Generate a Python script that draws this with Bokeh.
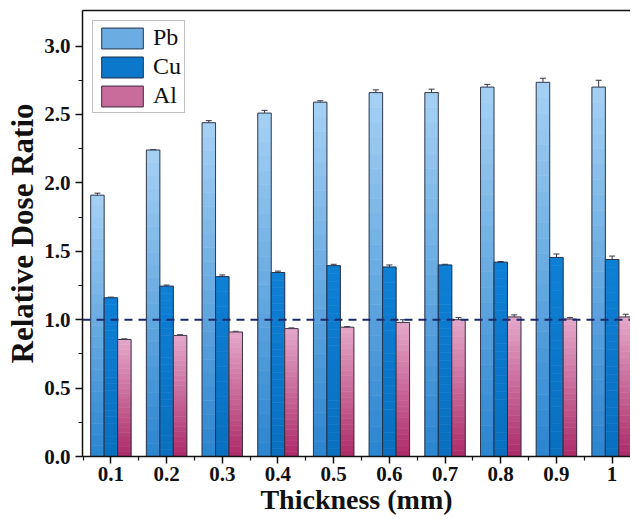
import numpy as np
from bokeh.plotting import figure
from bokeh.models import (FixedTicker, PrintfTickFormatter, Whisker, ColumnDataSource,
                          Span, Legend, LegendItem, LinearAxis, TeeHead, Range1d)
from bokeh.embed import file_html
from bokeh.resources import INLINE

# ---------------- data ----------------
thickness = ["0.1", "0.2", "0.3", "0.4", "0.5", "0.6", "0.7", "0.8", "0.9", "1"]
pb = [1.91, 2.24, 2.44, 2.51, 2.59, 2.66, 2.66, 2.70, 2.735, 2.70]
pb_err = [0.015, 0.004, 0.015, 0.02, 0.01, 0.02, 0.025, 0.02, 0.03, 0.05]
cu = [1.16, 1.245, 1.315, 1.345, 1.395, 1.385, 1.40, 1.42, 1.455, 1.44]
cu_err = [0.005, 0.008, 0.012, 0.01, 0.01, 0.015, 0.005, 0.005, 0.025, 0.025]
al = [0.855, 0.885, 0.91, 0.935, 0.945, 0.98, 1.00, 1.02, 1.005, 1.02]
al_err = [0.005, 0.005, 0.005, 0.005, 0.005, 0.02, 0.015, 0.015, 0.01, 0.02]
reference_level = 1.0

series = [
    ("Pb", pb, pb_err, "#a6d1f4", "#2a84cf", -1),
    ("Cu", cu, cu_err, "#0d80d6", "#0a6fbf", 0),
    ("Al", al, al_err, "#e4a8c9", "#ac2a68", 1),
]

FONT = "Liberation Serif"
BW = 0.242
NSEG = 24

x_idx = np.arange(len(thickness), dtype=float)

p = figure(frame_width=548, frame_height=446, output_backend="svg", toolbar_location=None,
           x_range=Range1d(-0.51, 9.33), y_range=Range1d(0, 3.26),
           min_border_left=82, min_border_right=0, min_border_top=10, min_border_bottom=66)
p.background_fill_color = "white"
p.border_fill_color = "white"
p.outline_line_color = None
p.grid.visible = False


def hex2rgb(h):
    h = h.lstrip("#")
    return np.array([int(h[i:i + 2], 16) for i in (0, 2, 4)], dtype=float)


def rgb2hex(c):
    return "#%02x%02x%02x" % tuple(int(round(v)) for v in c)


legend_items = []
for name, vals, errs, top_c, bot_c, off in series:
    vals = np.array(vals)
    xs = x_idx + off * BW
    ct, cb = hex2rgb(top_c), hex2rgb(bot_c)
    mid_r = None
    for k in range(NSEG):
        f = (k + 0.5) / NSEG
        col = rgb2hex(cb + (ct - cb) * f)
        r = p.vbar(x=xs, width=BW, bottom=vals * k / NSEG, top=vals * (k + 1) / NSEG,
                   fill_color=col, line_color=col, line_width=0.6)
        if k == NSEG // 2:
            mid_r = r
    outline = p.vbar(x=xs, width=BW, bottom=0, top=vals, fill_color=None,
                     line_color="#2a2a3a", line_width=0.9)
    src = ColumnDataSource(dict(x=xs, upper=vals + np.array(errs), lower=vals - np.array(errs)))
    w = Whisker(base="x", upper="upper", lower="lower", source=src,
                line_color="#333344", line_width=1.0,
                upper_head=TeeHead(size=6, line_color="#333344", line_width=1.0),
                lower_head=TeeHead(size=6, line_color="#333344", line_width=1.0))
    p.add_layout(w)
    legend_items.append(LegendItem(label=name, renderers=[mid_r, outline]))

span = Span(location=reference_level, dimension="width", line_color="#1b2a6b",
            line_width=2, line_dash="8 6")
p.add_layout(span)

# axes
xa = p.xaxis[0]
xa.ticker = FixedTicker(ticks=list(x_idx), minor_ticks=list(np.arange(-0.5, 10.0, 1.0)))
xa.major_label_overrides = {i: t for i, t in enumerate(thickness)}
xa.axis_label = "Thickness (mm)"

ya = p.yaxis[0]
ya.ticker = FixedTicker(ticks=[0, 0.5, 1.0, 1.5, 2.0, 2.5, 3.0],
                        minor_ticks=[0.25, 0.75, 1.25, 1.75, 2.25, 2.75])
ya.formatter = PrintfTickFormatter(format="%.1f")
ya.axis_label = "Relative Dose Ratio"

for ax in (xa, ya):
    ax.axis_line_width = 1.5
    ax.axis_line_color = "#111111"
    ax.major_tick_line_width = 1.5
    ax.minor_tick_line_width = 1.2
    ax.major_tick_line_color = "#111111"
    ax.minor_tick_line_color = "#111111"
    ax.major_tick_in = 0
    ax.major_tick_out = 7
    ax.minor_tick_in = 0
    ax.minor_tick_out = 4
    ax.major_label_text_font = FONT
    ax.major_label_text_font_style = "bold"
    ax.major_label_text_font_size = "21px"
    ax.major_label_text_color = "#111111"
    ax.axis_label_text_font = FONT
    ax.axis_label_text_font_style = "bold"
    ax.axis_label_text_color = "#111111"

xa.axis_label_text_font_size = "28px"
ya.axis_label_text_font_size = "31px"
xa.major_label_standoff = 3
ya.major_label_standoff = 5
xa.axis_label_standoff = 0
ya.axis_label_standoff = 1

top_axis = LinearAxis(ticker=FixedTicker(ticks=[]), axis_line_width=1.5,
                      axis_line_color="#111111", major_tick_line_color=None,
                      minor_tick_line_color=None, major_label_text_font_size="0px",
                      major_tick_out=0, minor_tick_out=0, major_label_standoff=0)
p.add_layout(top_axis, "above")

legend = Legend(items=legend_items, location="top_left")
legend.margin = 10
legend.padding = 3
legend.spacing = 2
legend.glyph_width = 52
legend.glyph_height = 26
legend.label_standoff = 5
legend.label_text_font = FONT
legend.label_text_font_size = "24px"
legend.label_text_color = "#111111"
legend.border_line_color = "#888888"
legend.border_line_width = 1.5
legend.background_fill_alpha = 1.0
p.add_layout(legend, "center")

open("out.html", "w").write(file_html(p, INLINE))
